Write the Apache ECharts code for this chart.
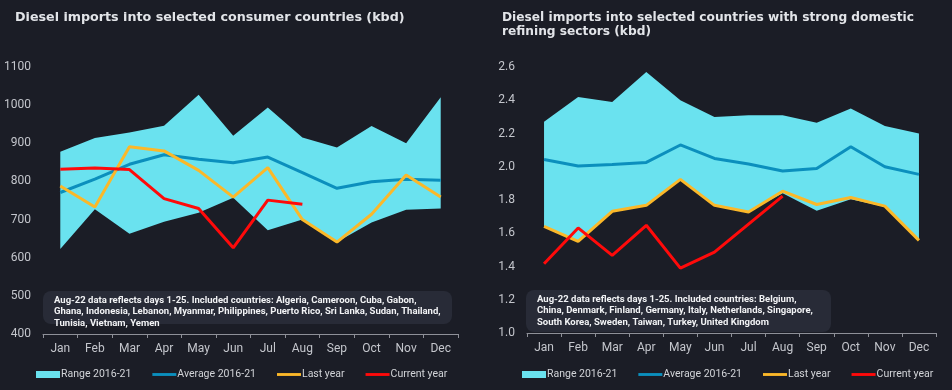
<!DOCTYPE html>
<html>
<head>
<meta charset="utf-8">
<script src="https://cdn.jsdelivr.net/npm/echarts@6/dist/echarts.min.js"></script>
<style>
html,body{margin:0;padding:0;background:#1b1d26;}
#c{width:952px;height:390px;}
</style>
</head>
<body>
<div id="c"></div>
<script>
const months = ['Jan','Feb','Mar','Apr','May','Jun','Jul','Aug','Sep','Oct','Nov','Dec'];

// Left chart: consumer countries (kbd)
const consRangeLow  = [623, 727, 663, 694, 718, 757, 672, 700, 641, 692, 726, 729];
const consRangeHigh = [878, 914, 928, 946, 1027, 920, 994, 915, 889, 945, 900, 1021];
const consAverage   = [771, 806, 845, 870, 858, 849, 864, 823, 782, 799, 806, 803];
const consLastYear  = [788, 733, 891, 880, 829, 759, 836, 700, 641, 714, 817, 759];
const consCurrent   = [832, 835, 831, 755, 729, 626, 751, 740];

// Right chart: countries with strong domestic refining
const refRangeLow  = [1.64, 1.55, 1.73, 1.77, 1.92, 1.77, 1.73, 1.84, 1.735, 1.805, 1.76, 1.56];
const refRangeHigh = [2.27, 2.42, 2.39, 2.57, 2.40, 2.30, 2.31, 2.31, 2.265, 2.35, 2.245, 2.20];
const refAverage   = [2.044, 2.004, 2.014, 2.026, 2.131, 2.05, 2.016, 1.974, 1.99, 2.12, 2.0, 1.954];
const refLastYear  = [1.642, 1.551, 1.732, 1.768, 1.924, 1.768, 1.728, 1.853, 1.773, 1.815, 1.763, 1.557];
const refCurrent   = [1.416, 1.632, 1.467, 1.648, 1.39, 1.487, 1.655, 1.823];

const leftTitle = 'Diesel imports into selected consumer countries (kbd)';
const rightTitle = 'Diesel imports into selected countries with strong domestic\nrefining sectors (kbd)';
const leftNote = 'Aug-22 data reflects days 1-25. Included countries: Algeria, Cameroon, Cuba, Gabon,\nGhana, Indonesia, Lebanon, Myanmar, Philippines, Puerto Rico, Sri Lanka, Sudan, Thailand,\nTunisia, Vietnam, Yemen';
const rightNote = 'Aug-22 data reflects days 1-25. Included countries: Belgium,\nChina, Denmark, Finland, Germany, Italy, Netherlands, Singapore,\nSouth Korea, Sweden, Taiwan, Turkey, United Kingdom';

const C_RANGE = '#6ae2ef', C_AVG = '#0b8fbd', C_LAST = '#fbb829', C_CUR = '#ff0a0a';
const AX = '#c4c6cc';

function diff(h, l) { return h.map((v, i) => +(v - l[i]).toFixed(4)); }

function axes(idx, min, max, interval, fmt) {
  return {
    x: {
      type: 'category', gridIndex: idx, data: months, boundaryGap: true,
      axisLine: {lineStyle: {color: '#8e9098', width: 1}},
      axisTick: {show: true, length: 4, lineStyle: {color: '#8e9098'}},
      axisLabel: {color: AX, fontSize: 12, margin: 9, fontFamily: 'Roboto'}
    },
    y: {
      type: 'value', gridIndex: idx, min: min, max: max, interval: interval,
      splitLine: {show: false}, axisLine: {show: false}, axisTick: {show: false},
      axisLabel: {color: AX, fontSize: 12, margin: 12, fontFamily: 'Roboto', formatter: fmt}
    }
  };
}

const a0 = axes(0, 400, 1100, 100, v => String(v));
const a1 = axes(1, 1.0, 2.6, 0.2, v => v.toFixed(1));

function seriesFor(idx, low, high, avg, last, cur) {
  return [
    {name: 'low' + idx, type: 'line', xAxisIndex: idx, yAxisIndex: idx, stack: 'r' + idx,
     data: low, symbol: 'none', lineStyle: {width: 0, opacity: 0}, silent: true},
    {name: 'Range 2016-21', type: 'line', xAxisIndex: idx, yAxisIndex: idx, stack: 'r' + idx,
     data: diff(high, low), symbol: 'none', color: C_RANGE,
     lineStyle: {width: 0, opacity: 0}, areaStyle: {color: C_RANGE, opacity: 1}},
    {name: 'Average 2016-21', type: 'line', xAxisIndex: idx, yAxisIndex: idx, data: avg,
     symbol: 'none', color: C_AVG, lineStyle: {width: 3, color: C_AVG}},
    {name: 'Last year', type: 'line', xAxisIndex: idx, yAxisIndex: idx, data: last,
     symbol: 'none', color: C_LAST, lineStyle: {width: 3, color: C_LAST}},
    {name: 'Current year', type: 'line', xAxisIndex: idx, yAxisIndex: idx, data: cur,
     symbol: 'none', color: C_CUR, lineStyle: {width: 3, color: C_CUR}}
  ];
}

function legend(left) {
  return {
    left: left, top: 369, width: 430, padding: 0, itemWidth: 24, itemHeight: 7, itemGap: 21,
    textStyle: {color: '#d2d4d8', fontSize: 10.5, fontFamily: 'Roboto', padding: [0, 0, 0, -4]},
    data: [
      {name: 'Range 2016-21', icon: 'rect'},
      {name: 'Average 2016-21', icon: 'path://M0,3H25V6H0Z'},
      {name: 'Last year', icon: 'path://M0,3H25V6H0Z'},
      {name: 'Current year', icon: 'path://M0,3H25V6H0Z'}
    ]
  };
}

function note(x, y, w, h, text) {
  return {
    type: 'group', left: x, top: y, silent: true,
    children: [
      {type: 'rect', shape: {x: 0, y: 0, width: w, height: h, r: 8}, style: {fill: '#282b37'}},
      {type: 'text', x: 11, y: 4, style: {text: text, fill: '#f2f3f5', font: 'bold 9.5px Roboto', lineHeight: 11.3}}
    ]
  };
}

const chart = echarts.init(document.getElementById('c'), null, {renderer: 'canvas'});
chart.setOption({
  backgroundColor: '#1b1d26',
  animation: false,
  title: [
    {text: leftTitle, left: 15, top: 11, padding: 0, textStyle: {color: '#e2e4e8', fontSize: 12.7, fontWeight: 'bold', fontFamily: 'DejaVu Sans'}},
    {text: rightTitle, left: 502, top: 11, padding: 0, textStyle: {color: '#e2e4e8', fontSize: 12.2, fontWeight: 'bold', fontFamily: 'DejaVu Sans', lineHeight: 14}}
  ],
  grid: [
    {left: 43, right: 494, top: 67, bottom: 56},
    {left: 527, right: 16, top: 67, bottom: 57}
  ],
  xAxis: [a0.x, a1.x],
  yAxis: [a0.y, a1.y],
  legend: [legend(36), legend(522)],
  graphic: [
    note(43, 291, 409, 33, leftNote),
    note(526, 290, 305, 42, rightNote)
  ],
  series: seriesFor(0, consRangeLow, consRangeHigh, consAverage, consLastYear, consCurrent)
    .concat(seriesFor(1, refRangeLow, refRangeHigh, refAverage, refLastYear, refCurrent))
});
</script>
</body>
</html>
